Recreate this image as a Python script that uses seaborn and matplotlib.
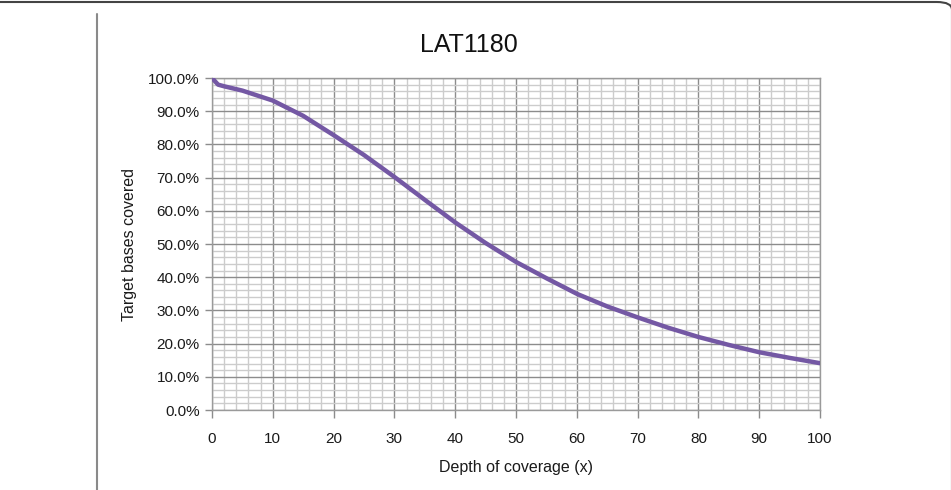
import numpy as np
import pandas as pd
import matplotlib
matplotlib.use("Agg")
import matplotlib.pyplot as plt
import seaborn as sns
from matplotlib.ticker import MultipleLocator, PercentFormatter
from matplotlib.patches import FancyBboxPatch
from matplotlib.lines import Line2D

# values
depth = [0, 0.5, 1, 2, 5, 10, 15, 20, 25, 30, 35, 40, 45, 50, 55, 60, 65, 70, 75, 80, 85, 90, 95, 100]
covered = [100, 99.0, 98.0, 97.5, 96.2, 93.2, 88.6, 82.8, 76.8, 70.2, 63.3, 56.5, 50.3, 44.6,
           39.7, 35.0, 31.2, 27.9, 24.8, 22.0, 19.6, 17.4, 15.7, 14.1]
title = "LAT1180"

df = pd.DataFrame({"depth": depth, "covered": np.array(covered) / 100})

sns.set_theme(style="white")
plt.rcParams['font.family'] = ['Liberation Sans', 'DejaVu Sans']

fig = plt.figure(figsize=(9.51, 4.90), dpi=100)
ax = fig.add_axes([212 / 951, 1 - 410 / 490, (820 - 212) / 951, (410 - 78) / 490])

sns.lineplot(data=df, x="depth", y="covered", ax=ax, color="#7458a4", linewidth=3.2, zorder=5)

ax.set_xlim(0, 100)
ax.set_ylim(0, 1)
ax.xaxis.set_major_locator(MultipleLocator(10))
ax.xaxis.set_minor_locator(MultipleLocator(2))
ax.yaxis.set_major_locator(MultipleLocator(0.1))
ax.yaxis.set_minor_locator(MultipleLocator(0.02))
ax.yaxis.set_major_formatter(PercentFormatter(1.0, decimals=1))

ax.grid(which="major", color="#8c8c8c", linewidth=1.0)
ax.grid(which="minor", color="#cccccc", linewidth=1.0)
ax.set_axisbelow(True)

for s in ax.spines.values():
    s.set_color("#9a9a9a")
    s.set_linewidth(1.0)

ax.tick_params(axis="y", which="major", left=True, length=5, width=1, color="#8c8c8c",
               labelsize=11, pad=4, labelcolor="#1a1a1a")
ax.tick_params(axis="x", which="major", bottom=True, length=6, width=1, color="#8c8c8c",
               labelsize=11, pad=10, labelcolor="#1a1a1a")
ax.tick_params(which="minor", length=0)

ax.set_xlabel("Depth of coverage (x)", fontsize=11.5, labelpad=10, color="#1a1a1a")
ax.set_ylabel("Target bases covered", fontsize=11.5, labelpad=8, color="#1a1a1a")

fig.text(469 / 951, 1 - 45 / 490, title, ha="center", va="center", fontsize=18, color="#111111")

# page decorations: rounded frame on top and the vertical rule on the left
frame = FancyBboxPatch((-20 / 951, -0.5), (952 + 20) / 951, 0.5 + (490 - 2) / 490,
                       boxstyle="round,pad=0,rounding_size=0.016", transform=fig.transFigure,
                       fill=False, edgecolor="#444444", linewidth=1.5, clip_on=False)
fig.patches.append(frame)
fig.lines.append(Line2D([97 / 951, 97 / 951], [0, 1 - 14 / 490], transform=fig.transFigure,
                        color="#8a8a8a", linewidth=1.5))

fig.savefig("out.png", dpi=100)
